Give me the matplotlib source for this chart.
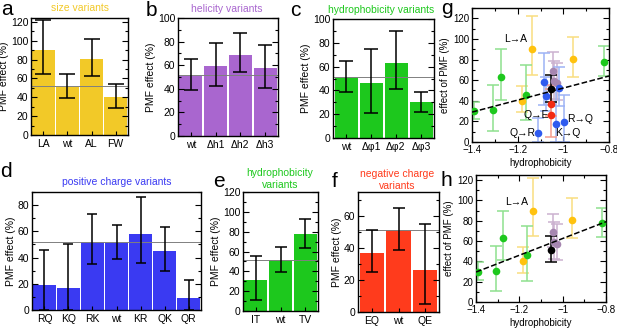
import matplotlib
matplotlib.use("Agg")
import matplotlib.pyplot as plt
import numpy as np
from matplotlib.ticker import MultipleLocator, FuncFormatter

plt.rcParams['font.family'] = ['Liberation Sans', 'DejaVu Sans']

# ---- data: PMF effect (%) with lower / upper error limits ----
wt_line = 51.5

size_labels = ["LA", "wt", "AL", "FW"]
size_vals = [90, 51, 81, 40]
size_lo = [65, 39, 63, 29]
size_hi = [122, 65, 102, 54]

helix_labels = ["wt", "Δh1", "Δh2", "Δh3"]
helix_vals = [51, 59.5, 69, 57.5]
helix_lo = [39, 42, 54, 41]
helix_hi = [65, 79, 87, 77]

hydro_labels = ["wt", "Δφ1", "Δφ2", "Δφ3"]
hydro_vals = [51, 46, 63, 30]
hydro_lo = [39, 21, 41, 22]
hydro_hi = [65, 75, 90, 39]

pos_labels = ["RQ", "KQ", "RK", "wt", "KR", "QK", "QR"]
pos_vals = [19, 17, 52, 51, 58, 45, 9]
pos_lo = [0, 0, 35, 39, 36, 30, 0]
pos_hi = [46, 50, 73, 65, 86, 63, 23]

hyd2_labels = ["IT", "wt", "TV"]
hyd2_vals = [31, 51, 78]
hyd2_lo = [11, 39, 64]
hyd2_hi = [55, 65, 93]

neg_labels = ["EQ", "wt", "QE"]
neg_vals = [37, 51, 26]
neg_lo = [25, 39, 5]
neg_hi = [51, 65, 55]

# hydrophobicity of each variant (scatter panels g, h)
size_hphob = [-1.136, None, -0.956, -1.183]          # LA, wt, AL, FW
helix_hphob = [None, -1.040, -1.044, -1.027]         # wt, dh1, dh2, dh3
hydro_hphob = [None, -1.163, -1.275, -1.390]         # wt, dphi1..3
hyd2_hphob = [-1.307, None, -0.820]                  # IT, wt, TV
pos_hphob = [-0.998, -1.031, -1.021, None, -1.086, -1.077, -1.109]
neg_hphob = [-1.054, None, -1.054]
wt_hphob = -1.054

fit_x = [-1.4, -0.8]
fit_g = [29, 64]
fit_h = [29.5, 79]

c_yellow = "#F2C928"
c_purple = "#A966CF"
c_green = "#1DC81D"
c_blue = "#3A3AF2"
c_red = "#FF3B1C"

W, H = 617, 329
fig = plt.figure(figsize=(W / 100, H / 100), dpi=100)


def px_axes(x0, y0, x1, y1):
    return fig.add_axes([x0 / W, 1 - y1 / H, (x1 - x0) / W, (y1 - y0) / H])


def bar_panel(rect, labels, vals, lo, hi, color, ylim, capsize):
    ax = px_axes(*rect)
    x = np.arange(len(labels))
    v = np.array(vals, float)
    ax.bar(x, v, width=0.92, color=color, zorder=1)
    ax.axhline(wt_line, color='0.5', lw=0.7, zorder=2)
    ax.errorbar(x, v, yerr=[v - np.array(lo), np.array(hi) - v], fmt='none',
                ecolor='black', elinewidth=1.1, capsize=capsize, capthick=1.1, zorder=3)
    ax.set_xlim(-0.52, len(labels) - 0.48)
    ax.set_ylim(0, ylim)
    ax.set_xticks(x)
    ax.set_xticklabels(labels)
    ax.yaxis.set_major_locator(MultipleLocator(20))
    ax.yaxis.set_minor_locator(MultipleLocator(10))
    ax.tick_params(axis='y', which='both', direction='in', left=True, right=True,
                   labelsize=7.5, width=0.8, pad=2)
    ax.tick_params(axis='y', which='major', length=4)
    ax.tick_params(axis='y', which='minor', length=2)
    ax.tick_params(axis='x', direction='in', length=3, labelsize=7.5, pad=3)
    for s in ax.spines.values():
        s.set_linewidth(1)
    ax.set_ylabel("PMF effect (%)", fontsize=7.5, labelpad=1)
    return ax


def scatter_panel(rect, groups, fit, ylim):
    ax = px_axes(*rect)
    for xs, vals, lo, hi, color, ecolor in groups:
        for xv, v, l, h in zip(xs, vals, lo, hi):
            if xv is None:
                continue
            ax.errorbar([xv], [v], yerr=[[v - l], [h - v]], fmt='none', ecolor=ecolor,
                        elinewidth=1.1, capsize=4.5, capthick=1.1, zorder=2)
    for xs, vals, lo, hi, color, ecolor in groups:
        pts = [(xv, v) for xv, v in zip(xs, vals) if xv is not None]
        ax.plot([p[0] for p in pts], [p[1] for p in pts], 'o', color=color, ms=5.5, mec='none', zorder=4)
    ax.plot(fit_x, fit, '--', color='black', lw=1.1, zorder=5)
    ax.set_xlim(-1.4, -0.8)
    ax.set_ylim(0, ylim)
    ax.xaxis.set_major_locator(MultipleLocator(0.2))
    ax.xaxis.set_minor_locator(MultipleLocator(0.1))
    ax.xaxis.set_major_formatter(FuncFormatter(lambda v, p: ("%g" % round(v, 2)).replace("-", "\u2212")))
    ax.yaxis.set_major_locator(MultipleLocator(20))
    ax.yaxis.set_minor_locator(MultipleLocator(10))
    ax.tick_params(which='both', direction='in', top=True, right=True, labelsize=7, width=0.8, pad=2)
    ax.tick_params(which='major', length=4)
    ax.tick_params(which='minor', length=2)
    for s in ax.spines.values():
        s.set_linewidth(1)
    ax.set_xlabel("hydrophobicity", fontsize=7, labelpad=2)
    ax.set_ylabel("effect of PMF (%)", fontsize=7, labelpad=2)
    return ax


# ---- bar panels ----
bar_panel((31, 18, 128, 135), size_labels, size_vals, size_lo, size_hi, c_yellow, 124, 5.5)
bar_panel((178, 18, 278, 136), helix_labels, helix_vals, helix_lo, helix_hi, c_purple, 100, 5)
bar_panel((333, 19, 434, 138), hydro_labels, hydro_vals, hydro_lo, hydro_hi, c_green, 100, 5)
bar_panel((32, 192, 201, 310), pos_labels, pos_vals, pos_lo, pos_hi, c_blue, 90, 3.5)
bar_panel((243, 192, 318, 311), hyd2_labels, hyd2_vals, hyd2_lo, hyd2_hi, c_green, 120, 4)
bar_panel((358, 192, 439, 312), neg_labels, neg_vals, neg_lo, neg_hi, c_red, 75, 4.5)

# ---- scatter panels ----
e_yellow, e_purple, e_green = "#F9DE80", "#CBB2CF", "#8EE08E"
e_blue, e_red = "#9DB3F5", "#F59C8E"
common = [
    (size_hphob, size_vals, size_lo, size_hi, "#FFC20E", e_yellow),
    (helix_hphob, helix_vals, helix_lo, helix_hi, "#A686B0", e_purple),
    (hydro_hphob, hydro_vals, hydro_lo, hydro_hi, c_green, e_green),
    (hyd2_hphob, hyd2_vals, hyd2_lo, hyd2_hi, c_green, e_green),
]
wt_group = ([wt_hphob], [51], [39], [65], "black", "black")
g_groups = common + [
    (pos_hphob, pos_vals, pos_lo, pos_hi, "#2F5BEF", e_blue),
    (neg_hphob, neg_vals, neg_lo, neg_hi, "#F22A14", e_red),
    wt_group,
]
axg = scatter_panel((472, 8, 609, 142), g_groups, fit_g, 130)
lab = dict(fontsize=7.5, zorder=6)
axg.text(-1.16, 100, "L\u2192A", ha='right', va='center', **lab)
axg.text(-1.065, 26, "Q\u2192E", ha='right', va='center', **lab)
axg.text(-1.12, 9, "Q\u2192R", ha='right', va='center', **lab)
axg.text(-0.985, 22, "R\u2192Q", ha='left', va='center', **lab)
axg.text(-1.035, 9, "K\u2192Q", ha='left', va='center', **lab)

axh = scatter_panel((476, 175, 606, 302), common + [wt_group], fit_h, 125)
axh.text(-1.16, 98, "L\u2192A", ha='right', va='center', **lab)

# ---- titles ----
tt = dict(fontsize=7.5, ha='center', va='center')
fig.text(80 / W, 1 - 8 / H, "size variants", color=c_yellow, **tt)
fig.text(227 / W, 1 - 9 / H, "helicity variants", color=c_purple, **tt)
fig.text(381 / W, 1 - 10 / H, "hydrophobicity variants", color=c_green, **tt)
fig.text(117 / W, 1 - 182 / H, "positive charge variants", color=c_blue, **tt)
fig.text(280 / W, 1 - 179 / H, "hydrophobicity\nvariants", color=c_green, linespacing=1.3, **tt)
fig.text(397 / W, 1 - 180 / H, "negative charge\nvariants", color=c_red, linespacing=1.3, **tt)

# ---- panel letters ----
for ch, x, y in [("a", 1, 15), ("b", 146, 16), ("c", 290, 16), ("g", 441, 14),
                 ("d", 0, 177), ("e", 213, 187), ("f", 332, 187), ("h", 440, 186)]:
    fig.text(x / W, 1 - y / H, ch, fontsize=15, ha='left', va='baseline')

fig.savefig("out.png", dpi=100)
